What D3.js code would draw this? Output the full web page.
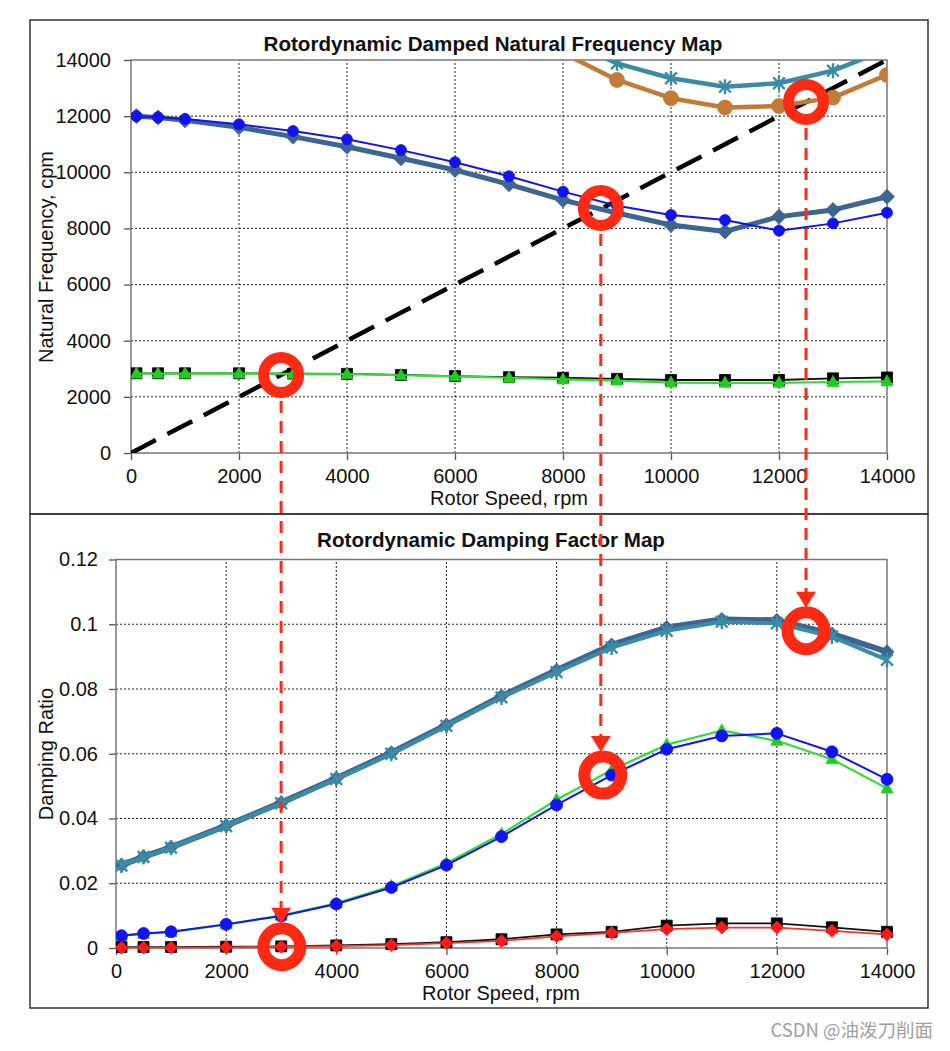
<!DOCTYPE html>
<html><head><meta charset="utf-8">
<script src="https://cdn.jsdelivr.net/npm/d3@7"></script>
<style>body{margin:0;background:#fff}svg{display:block}text{font-family:"Liberation Sans",Arial,sans-serif;fill:#111}</style>
</head><body><svg id="c" width="950" height="1051"></svg>
<script>
// ---------- DATA ----------
const speeds = [100,500,1000,2000,3000,4000,5000,6000,7000,8000,9000,10000,11000,12000,13000,14000];
const highSpeeds = [8000,9000,10000,11000,12000,13000,14000];
const freqDiamond = [12000,11950,11850,11600,11270,10910,10500,10080,9570,9010,8550,8120,7890,8420,8660,9130];
const freqBlue = [12000,11960,11900,11710,11470,11175,10790,10360,9860,9310,8810,8480,8300,7920,8180,8560];
const freqStar = [14750,13880,13350,13050,13170,13620,14380];
const freqBrown = [14250,13290,12640,12310,12360,12660,13470];
const freqSquare = [2840,2840,2840,2840,2830,2820,2780,2740,2700,2680,2640,2600,2600,2600,2660,2690];
const freqTriangle = [2830,2830,2830,2830,2820,2810,2770,2730,2680,2620,2580,2510,2500,2500,2530,2550];
const syncLine = [0,14000];

const dampDiamond = [0.0256,0.0282,0.0311,0.0378,0.0449,0.0524,0.0603,0.0689,0.0778,0.0858,0.0936,0.0990,0.1015,0.1012,0.0970,0.0915];
const dampStar = [0.0255,0.0281,0.0310,0.0377,0.0447,0.0522,0.0600,0.0686,0.0774,0.0852,0.0928,0.0980,0.1008,0.1003,0.0962,0.0890];
const dampBlue = [0.0038,0.0045,0.0050,0.0073,0.0099,0.0136,0.0187,0.0256,0.0344,0.0442,0.0534,0.0614,0.0655,0.0663,0.0606,0.0521];
const dampTriangle = [0.0038,0.0044,0.0049,0.0073,0.0100,0.0138,0.0191,0.0262,0.0352,0.0458,0.0550,0.0628,0.0672,0.0640,0.0583,0.0493];
const dampSquare = [0.0003,0.0003,0.0003,0.0004,0.0005,0.0008,0.0012,0.0018,0.0027,0.0042,0.0050,0.0069,0.0076,0.0076,0.0064,0.0050];
const dampRed = [0.0001,0.0001,0.0001,0.0002,0.0004,0.0006,0.0009,0.0015,0.0022,0.0036,0.0047,0.0058,0.0063,0.0063,0.0053,0.0042];

const speedTicks = [0,2000,4000,6000,8000,10000,12000,14000];
const freqTicks = [0,2000,4000,6000,8000,10000,12000,14000];
const dampTicks = [0,0.02,0.04,0.06,0.08,0.1,0.12];

// annotation points (data units): crossings on the frequency map and their damping results
const topMarks = [{speed:2780,value:2780},{speed:8700,value:8730},{speed:12500,value:12500}];
const bottomMarks = [{speed:3010,value:0.0004},{speed:8840,value:0.0534},{speed:12530,value:0.098}];

// ---------- DRAW ----------
const svg = d3.select("#c");
svg.append("rect").attr("width",950).attr("height",1051).attr("fill","#fff");

// outer frames
svg.append("rect").attr("x",30).attr("y",20).attr("width",898).attr("height",494)
  .attr("fill","none").attr("stroke","#333").attr("stroke-width",1.5);
svg.append("rect").attr("x",30).attr("y",514).attr("width",898).attr("height",494)
  .attr("fill","none").attr("stroke","#333").attr("stroke-width",1.5);

function markerPath(type, s){
  switch(type){
    case "diamond": return `M0,${-s}L${s},0L0,${s}L${-s},0Z`;
    case "square": return `M${-s},${-s}H${s}V${s}H${-s}Z`;
    case "triangle": return `M0,${-s*1.1}L${s},${s*0.75}L${-s},${s*0.75}Z`;
    case "circle": return d3.symbol(d3.symbolCircle, Math.PI*s*s)();
    case "star": { const d=s*0.78; return `M0,${-s}V${s}M${-d},${-d}L${d},${d}M${d},${-d}L${-d},${d}`; }
  }
}

function panel(cfg){
  const g = svg.append("g");
  const x = d3.scaleLinear().domain([0,14000]).range(cfg.xr);
  const y = d3.scaleLinear().domain(cfg.yd).range(cfg.yr);
  const clipId = "clip"+cfg.id;
  g.append("clipPath").attr("id",clipId).append("rect")
    .attr("x",cfg.xr[0]).attr("y",cfg.yr[1]-10).attr("width",cfg.xr[1]-cfg.xr[0]+14).attr("height",cfg.yr[0]-cfg.yr[1]+20);
  const clipInner = "clipi"+cfg.id;
  g.append("clipPath").attr("id",clipInner).append("rect")
    .attr("x",cfg.xr[0]).attr("y",cfg.yr[1]).attr("width",cfg.xr[1]-cfg.xr[0]).attr("height",cfg.yr[0]-cfg.yr[1]);

  // grid
  g.append("g").selectAll("line").data(speedTicks.filter(t=>t>0&&t<14000)).join("line")
    .attr("x1",d=>x(d)).attr("x2",d=>x(d)).attr("y1",cfg.yr[0]).attr("y2",cfg.yr[1])
    .attr("stroke","#222").attr("stroke-width",1).attr("stroke-dasharray","2,2");
  g.append("g").selectAll("line").data(cfg.yt.filter(t=>t>cfg.yd[0]&&t<cfg.yd[1])).join("line")
    .attr("x1",cfg.xr[0]).attr("x2",cfg.xr[1]).attr("y1",d=>y(d)).attr("y2",d=>y(d))
    .attr("stroke","#222").attr("stroke-width",1).attr("stroke-dasharray","2,2");

  // axes
  const ax = g.append("g").attr("transform",`translate(0,${cfg.yr[0]})`)
    .call(d3.axisBottom(x).tickValues(speedTicks).tickSize(7).tickPadding(9).tickFormat(d3.format("d")));
  const ay = g.append("g").attr("transform",`translate(${cfg.xr[0]},0)`)
    .call(d3.axisLeft(y).tickValues(cfg.yt).tickSize(7).tickPadding(cfg.ypad).tickFormat(cfg.yfmt));
  [ax,ay].forEach(a=>{
    a.select(".domain").remove();
    a.selectAll(".tick line").attr("stroke","#555").attr("stroke-width",1.3);
    a.selectAll(".tick text").attr("font-size",20).attr("fill","#111").style("font-family","'Liberation Sans',Arial,sans-serif");
  });
  ax.selectAll(".tick text").attr("dy","0.72em");
  // plot border
  g.append("rect").attr("x",cfg.xr[0]).attr("y",cfg.yr[1]).attr("width",cfg.xr[1]-cfg.xr[0]).attr("height",cfg.yr[0]-cfg.yr[1])
    .attr("fill","none").attr("stroke","#777").attr("stroke-width",1.5);

  // titles
  g.append("text").attr("x",cfg.titleX).attr("y",cfg.titleY).attr("text-anchor","middle")
    .attr("font-size",20.6).attr("font-weight","bold").text(cfg.title);
  g.append("text").attr("x",cfg.xlabX).attr("y",cfg.xlabY).attr("text-anchor","middle")
    .attr("font-size",20).text("Rotor Speed, rpm");
  g.append("text").attr("transform",`translate(${cfg.ylabX},${cfg.ylabY}) rotate(-90)`).attr("text-anchor","middle")
    .attr("dy","0.35em").attr("font-size",20).text(cfg.ylab);

  const plot = g.append("g").attr("clip-path",`url(#${clipId})`);
  const linesG = plot.append("g").attr("clip-path",`url(#${clipInner})`);
  cfg.series.forEach(s=>{
    const pts = s.xs.map((v,i)=>[v,s.ys[i]]);
    const gg = (s.clipInner? linesG : plot).append("g");
    gg.append("path").datum(pts)
      .attr("d", d3.line().x(d=>x(d[0])).y(d=>y(d[1])))
      .attr("fill","none").attr("stroke",s.lc).attr("stroke-width",s.lw)
      .attr("stroke-dasharray",s.dash||null).attr("stroke-linejoin","round");
    if(s.marker){
      gg.selectAll("path.m").data(pts.filter(p=>p[1]<=cfg.yd[1])).join("path").attr("class","m")
        .attr("transform",d=>`translate(${x(d[0])},${y(d[1])})`)
        .attr("d",markerPath(s.marker,s.ms))
        .attr("fill",s.marker==="star"?"none":s.mc)
        .attr("stroke",s.mc).attr("stroke-width",s.marker==="star"?2.4:0.8);
    }
  });
  return {x,y};
}

const topP = panel({
  id:"t", xr:[131,887], yr:[453,60], yd:[0,14000], yt:freqTicks, ypad:13, yfmt:d3.format("d"),
  title:"Rotordynamic Damped Natural Frequency Map", titleX:493, titleY:51,
  xlabX:509, xlabY:505, ylabX:46, ylabY:257, ylab:"Natural Frequency, cpm",
  series:[
    {xs:syncLine, ys:syncLine, lc:"#000", lw:4.5, dash:"28,13", clipInner:true},
    {xs:highSpeeds, ys:freqBrown, lc:"#C27A36", lw:4.5, marker:"circle", mc:"#C27A36", ms:7.5, clipInner:true},
    {xs:highSpeeds, ys:freqStar, lc:"#3C8BA4", lw:4.5, marker:"star", mc:"#3C8BA4", ms:7.5, clipInner:true},
    {xs:speeds, ys:freqDiamond, lc:"#3D6592", lw:5, marker:"diamond", mc:"#3D6592", ms:7.5},
    {xs:speeds, ys:freqBlue, lc:"#1212F2", lw:2, marker:"circle", mc:"#1212F2", ms:5.5},
    {xs:speeds, ys:freqSquare, lc:"#111", lw:1.8, marker:"square", mc:"#000", ms:5.5},
    {xs:speeds, ys:freqTriangle, lc:"#33DD33", lw:2.2, marker:"triangle", mc:"#22CC22", ms:6}
  ]
});

const botP = panel({
  id:"b", xr:[116,887], yr:[948,559.5], yd:[0,0.12], yt:dampTicks, ypad:11, yfmt:d=>d===0?"0":String(+d.toFixed(2)),
  title:"Rotordynamic Damping Factor Map", titleX:491, titleY:547,
  xlabX:501, xlabY:1000, ylabX:46, ylabY:754, ylab:"Damping Ratio",
  series:[
    {xs:speeds, ys:dampDiamond, lc:"#3D6592", lw:6, marker:"diamond", mc:"#3D6592", ms:7},
    {xs:speeds, ys:dampStar, lc:"#3C8BA4", lw:4, marker:"star", mc:"#3C8BA4", ms:7.5},
    {xs:speeds, ys:dampTriangle, lc:"#33DD33", lw:2.2, marker:"triangle", mc:"#22CC22", ms:6},
    {xs:speeds, ys:dampBlue, lc:"#1212F2", lw:2, marker:"circle", mc:"#1212F2", ms:6},
    {xs:speeds, ys:dampSquare, lc:"#111", lw:1.8, marker:"square", mc:"#000", ms:5.5},
    {xs:speeds, ys:dampRed, lc:"#F03828", lw:1.8, marker:"diamond", mc:"#FF1A1A", ms:6.5}
  ]
});

// annotations
const red = "#FF2A14";
const ann = svg.append("g");
const R = 17.5, SW = 11;
topMarks.forEach((m,i)=>{
  const bm = bottomMarks[i];
  const cx = topP.x(m.speed), cy = topP.y(m.value);
  const bx = botP.x(bm.speed), by = botP.y(bm.value);
  const tipY = by - R - SW/2;
  ann.append("line").attr("x1",cx).attr("x2",cx).attr("y1",cy+R+SW/2+3).attr("y2",tipY-14)
    .attr("stroke",red).attr("stroke-width",3).attr("stroke-dasharray","12,8");
  ann.append("path").attr("d",`M${cx-10},${tipY-16}L${cx+10},${tipY-16}L${cx},${tipY}Z`).attr("fill",red);
  ann.append("circle").attr("cx",cx).attr("cy",cy).attr("r",R).attr("fill","none").attr("stroke",red).attr("stroke-width",SW);
  ann.append("circle").attr("cx",bx).attr("cy",by).attr("r",R+1).attr("fill","none").attr("stroke",red).attr("stroke-width",SW+1);
});

// watermark
svg.append("text").attr("x",933).attr("y",1037).attr("text-anchor","end").attr("font-size",18.5)
  .style("fill","#a0a0a0").style("font-family","'Noto Sans CJK SC','Liberation Sans',sans-serif")
  .text("CSDN @油泼刀削面");
</script></body></html>
